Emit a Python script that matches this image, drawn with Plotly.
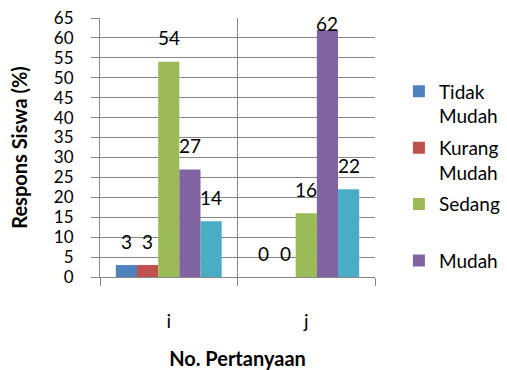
import plotly.graph_objects as go

# Question numbers and response categories
questions = ["i", "j"]
series_names = ["Tidak<br>Mudah", "Kurang<br>Mudah", "Sedang<br> ", "Mudah", "Sangat Mudah"]
series_colors = ["#4F81BD", "#C0504D", "#9BBB59", "#8064A2", "#4BACC6"]

# Student responses (%) per category, one list per series
tidak_mudah = [3, 0]
kurang_mudah = [3, 0]
sedang = [54, 16]
mudah = [27, 62]
sangat_mudah = [14, 22]
series_values = [tidak_mudah, kurang_mudah, sedang, mudah, sangat_mudah]

y_ticks = list(range(0, 66, 5))

FONT = "Lato"
GRID = "#878787"
BARGAP = 0.23
Y_MAX = 65

fig = go.Figure()
for k, (name, color, vals) in enumerate(zip(series_names, series_colors, series_values)):
    fig.add_trace(go.Bar(
        x=questions, y=vals, name=name,
        marker=dict(color=color, line=dict(width=0)),
        legendgroup=f"g{k}",
        showlegend=(k < 4),
    ))

# Data labels sit above each bar, kept inside the plot area
n = len(series_values)
bar_w = (1 - BARGAP) / n
for k, vals in enumerate(series_values):
    offset = -(1 - BARGAP) / 2 + (k + 0.5) * bar_w
    for ci, v in enumerate(vals):
        fig.add_annotation(
            x=ci + offset, y=min(v + 6.0, 63.7), text=str(v),
            showarrow=False, xref="x", yref="y",
            font=dict(family=FONT, size=19, color="black"),
        )

fig.update_layout(
    width=507, height=370,
    margin=dict(l=100, r=132, t=18, b=93, autoexpand=False),
    paper_bgcolor="white", plot_bgcolor="white",
    barmode="group", bargap=BARGAP, bargroupgap=0,
    font=dict(family=FONT, size=17, color="black"),
    legend=dict(
        x=1.087, xanchor="left", y=0.79, yanchor="top",
        font=dict(family=FONT, size=19, color="black"),
        valign="top", tracegroupgap=4, itemwidth=30,
        bgcolor="rgba(0,0,0,0)",
    ),
    xaxis=dict(
        type="category", tickson="boundaries", automargin=False,
        showgrid=True, gridcolor=GRID, gridwidth=1,
        showline=True, linecolor=GRID, linewidth=1,
        ticks="outside", ticklen=8, tickcolor=GRID,
        ticklabelstandoff=27,
        tickfont=dict(family=FONT, size=19),
        title=dict(text="<b>No. Pertanyaan</b>", standoff=21,
                   font=dict(family=FONT, size=20)),
        fixedrange=True,
    ),
    yaxis=dict(
        range=[0, Y_MAX], tickvals=y_ticks, automargin=False,
        showgrid=True, gridcolor=GRID, gridwidth=1, zeroline=False,
        showline=True, linecolor=GRID, linewidth=1,
        ticks="outside", ticklen=8, tickcolor=GRID,
        ticklabelstandoff=14,
        tickfont=dict(family=FONT, size=17),
        title=dict(text="<b>Respons Siswa (%)</b>", standoff=20,
                   font=dict(family=FONT, size=20)),
        fixedrange=True,
    ),
)

fig.write_html("out.html")
